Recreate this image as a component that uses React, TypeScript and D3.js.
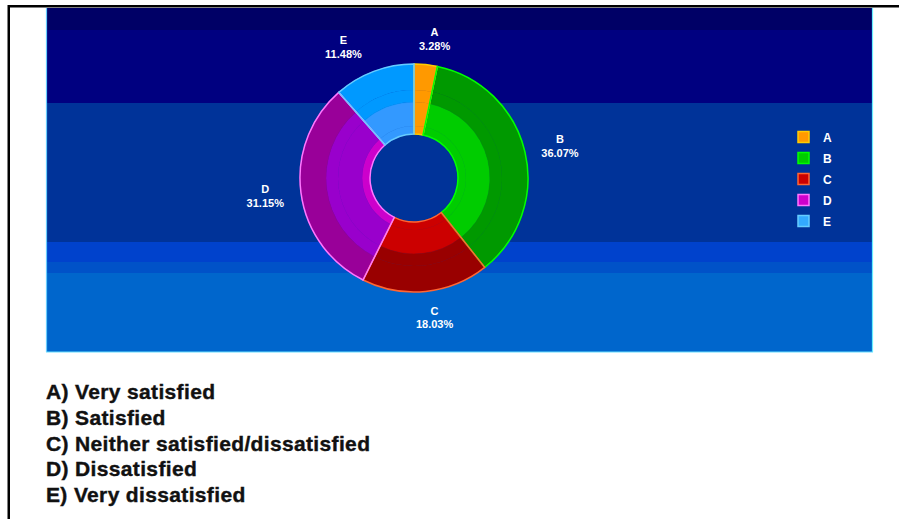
import * as d3 from "d3";

// slice data, clockwise from 12 o'clock
const labels = ["A", "B", "C", "D", "E"];
const values = [3.28, 36.07, 18.03, 31.15, 11.48];
const descriptions = [
  "A) Very satisfied",
  "B) Satisfied",
  "C) Neither satisfied/dissatisfied",
  "D) Dissatisfied",
  "E) Very dissatisfied",
];

// radial shading per slice (inner -> outer) and edge colour
const ringColors = [
  ["#ff9900", "#ff9900", "#ff9900", "#ff9900"],
  ["#00cc00", "#00cc00", "#009900", "#009900"],
  ["#cc0000", "#cc0000", "#990000", "#990000"],
  ["#cc00cc", "#9900cc", "#9900cc", "#990099"],
  ["#3399ff", "#3399ff", "#0099ff", "#0099ff"],
];
const edgeColors = ["#ffcc00", "#00ff00", "#ff6633", "#ff77ff", "#66ccff"];
const legendFill = ["#ff9900", "#00cc00", "#cc0000", "#cc00cc", "#33aaff"];

const W = 899;
const H = 519;

// panel background stripes
const bands = [
  { y0: 8, y1: 30, c: "#000066" },
  { y0: 30, y1: 103, c: "#000080" },
  { y0: 103, y1: 242, c: "#003399" },
  { y0: 242, y1: 262, c: "#0042cc" },
  { y0: 262, y1: 273, c: "#0052c8" },
  { y0: 273, y1: 352, c: "#0066cc" },
];

export default function App() {
  const cx = 414;
  const cy = 178;
  const rInner = 44;
  const rOuter = 114;
  const ringEdges = [rInner, 52, 76, 88, rOuter];

  const pie = d3
    .pie<number>()
    .sort(null)
    .value((d) => d)
    .startAngle(0)
    .endAngle(2 * Math.PI);
  const arcs = pie(values);

  const arc = d3.arc<any>();

  const legendY = d3.scalePoint<string>().domain(labels).range([137, 221]);

  return (
    <svg
      width={W}
      height={H}
      style={{ position: "absolute", left: 0, top: 0, background: "#fff" }}
      fontFamily="'Liberation Sans', Arial, sans-serif"
    >
      <rect x={0} y={0} width={W} height={H} fill="#ffffff" />
      {/* outer frame */}
      <rect x={8} y={5} width={W - 8} height={2.5} fill="#000" />
      <rect x={7.5} y={5} width={2.5} height={H - 5} fill="#000" />

      {/* panel */}
      {bands.map((b, i) => (
        <rect key={i} x={46} y={b.y0} width={827} height={b.y1 - b.y0} fill={b.c} />
      ))}
      <line x1={46.5} y1={8} x2={46.5} y2={352} stroke="#66ccff" strokeWidth={1.2} />
      <line x1={872.5} y1={8} x2={872.5} y2={352} stroke="#66eeff" strokeWidth={1.2} />
      <line x1={46} y1={352} x2={873} y2={352} stroke="#66ddff" strokeWidth={1.2} />

      {/* donut */}
      <g transform={`translate(${cx},${cy})`}>
        {arcs.map((a, i) => (
          <g key={labels[i]}>
            {ringColors[i].map((c, k) => (
              <path
                key={k}
                d={
                  arc({
                    innerRadius: ringEdges[k],
                    outerRadius: ringEdges[k + 1],
                    startAngle: a.startAngle,
                    endAngle: a.endAngle,
                  }) as string
                }
                fill={c}
                stroke={c}
                strokeWidth={0.5}
              />
            ))}
          </g>
        ))}
        {arcs.map((a, i) => (
          <path
            key={"edge" + i}
            d={
              arc({
                innerRadius: rInner,
                outerRadius: rOuter,
                startAngle: a.startAngle,
                endAngle: a.endAngle,
              }) as string
            }
            fill="none"
            stroke={edgeColors[i]}
            strokeWidth={1.5}
          />
        ))}
        {arcs.map((a, i) => {
          const mid = (a.startAngle + a.endAngle) / 2;
          const s = Math.sin(mid);
          // labels near the top get pushed sideways a bit more
          const x = s * 150 + (Math.abs(s) < 0.5 ? s * 50 : 0);
          const y = -Math.cos(mid) * 140;
          return (
            <text
              key={"lbl" + i}
              x={x}
              y={y}
              fill="#ffffff"
              fontSize={11}
              fontWeight="bold"
              textAnchor="middle"
            >
              <tspan x={x} dy="-0.25em">
                {labels[i]}
              </tspan>
              <tspan x={x} dy="1.25em">
                {values[i].toFixed(2)}%
              </tspan>
            </text>
          );
        })}
      </g>

      {/* legend */}
      {labels.map((l, i) => (
        <g key={"leg" + l} transform={`translate(798,${legendY(l)})`}>
          <rect
            x={0}
            y={-5.5}
            width={11}
            height={11}
            fill={legendFill[i]}
            stroke={edgeColors[i]}
            strokeWidth={1.5}
          />
          <text x={25} y={4.5} fill="#ffffff" fontSize={12} fontWeight="bold">
            {l}
          </text>
        </g>
      ))}

      {/* answer key */}
      {descriptions.map((t, i) => (
        <text
          key={"desc" + i}
          x={46}
          y={399 + i * 25.75}
          fontSize={21}
          fontWeight="bold"
          fill="#111"
          stroke="#111"
          strokeWidth={0.4}
          letterSpacing={0.35}
        >
          {t}
        </text>
      ))}
    </svg>
  );
}
